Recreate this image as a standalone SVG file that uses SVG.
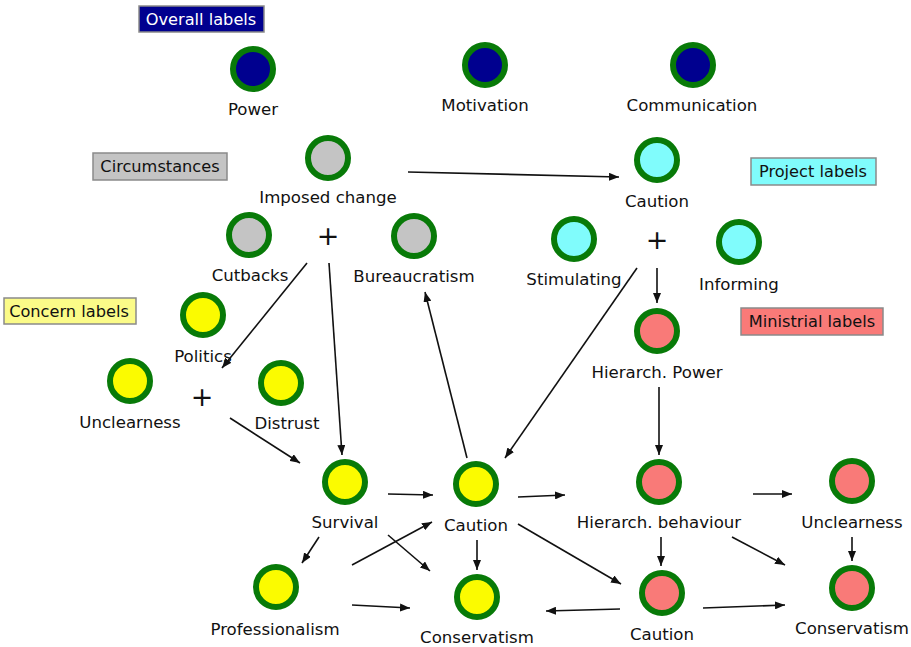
<svg xmlns="http://www.w3.org/2000/svg" width="911" height="647" viewBox="0 0 911 647">
  <defs>
    <marker id="arrow" viewBox="0 0 10 8" refX="10" refY="4" markerWidth="10" markerHeight="8" markerUnits="userSpaceOnUse" orient="auto">
      <path d="M0,0 L10,4 L0,8 z" fill="#111"/>
    </marker>
  </defs>
  <style>
    text { font-family: "DejaVu Sans", Verdana, sans-serif; font-size: 16.6px; fill: #111; }
    .lbl { text-anchor: middle; }
    .legend text { font-size: 16.2px; }
    .node circle { stroke: #087a08; stroke-width: 6; }
    .overall { fill: #00008f; }
    .circ { fill: #c4c4c4; }
    .proj { fill: #80fcfc; }
    .conc { fill: #fbfb00; }
    .min { fill: #f97a78; }
    .legend rect { stroke: #8a8a8a; stroke-width: 1.5; }
    .plus { font-size: 27px; text-anchor: middle; }
    #connectors line { stroke: #111; stroke-width: 1.6; marker-end: url(#arrow); }
  </style>
  <rect width="911" height="647" fill="#fff"/>

  <!-- legend boxes -->
  <g class="legend" id="legend-overall"><rect x="139" y="6" width="125" height="26" fill="#00008f" stroke="#00008f"/><text x="201" y="25" class="lbl" style="fill:#fff">Overall labels</text></g>
  <g class="legend" id="legend-circ"><rect x="93" y="153" width="134" height="27" fill="#c4c4c4"/><text x="160" y="172" class="lbl">Circumstances</text></g>
  <g class="legend" id="legend-proj"><rect x="751" y="158" width="125" height="27" fill="#80fcfc"/><text x="813" y="177" class="lbl">Project labels</text></g>
  <g class="legend" id="legend-conc"><rect x="4" y="298" width="132" height="26" fill="#fbfb88"/><text x="69" y="317" class="lbl">Concern labels</text></g>
  <g class="legend" id="legend-min"><rect x="741" y="308" width="142" height="27" fill="#f97a78"/><text x="812" y="327" class="lbl">Ministrial labels</text></g>

  <!-- overall -->
  <g class="node" id="power"><circle cx="253" cy="69" r="20" class="overall"/><text x="253" y="115" class="lbl">Power</text></g>
  <g class="node" id="motivation"><circle cx="485" cy="65" r="20" class="overall"/><text x="485" y="111" class="lbl">Motivation</text></g>
  <g class="node" id="communication"><circle cx="693" cy="65" r="20" class="overall"/><text x="692" y="111" class="lbl">Communication</text></g>

  <!-- circumstances -->
  <g class="node" id="imposed-change"><circle cx="328" cy="158" r="20" class="circ"/><text x="328" y="203" class="lbl">Imposed change</text></g>
  <g class="node" id="cutbacks"><circle cx="249" cy="235" r="20" class="circ"/><text x="250" y="281" class="lbl">Cutbacks</text></g>
  <g class="node" id="bureaucratism"><circle cx="414" cy="236" r="20" class="circ"/><text x="414" y="282" class="lbl">Bureaucratism</text></g>
  <text x="328" y="245" class="plus">+</text>

  <!-- project -->
  <g class="node" id="caution-project"><circle cx="657" cy="160" r="20" class="proj"/><text x="657" y="207" class="lbl">Caution</text></g>
  <g class="node" id="stimulating"><circle cx="574" cy="239" r="20" class="proj"/><text x="574" y="285" class="lbl">Stimulating</text></g>
  <g class="node" id="informing"><circle cx="739" cy="242" r="20" class="proj"/><text x="739" y="290" class="lbl">Informing</text></g>
  <text x="657" y="249" class="plus">+</text>

  <!-- concern -->
  <g class="node" id="politics"><circle cx="203" cy="315" r="20" class="conc"/><text x="203" y="362" class="lbl">Politics</text></g>
  <g class="node" id="unclearness-concern"><circle cx="130" cy="381" r="20" class="conc"/><text x="130" y="428" class="lbl">Unclearness</text></g>
  <g class="node" id="distrust"><circle cx="281" cy="383" r="20" class="conc"/><text x="287" y="429" class="lbl">Distrust</text></g>
  <text x="202" y="406" class="plus">+</text>
  <g class="node" id="survival"><circle cx="345" cy="482" r="20" class="conc"/><text x="345" y="528" class="lbl">Survival</text></g>
  <g class="node" id="caution-concern"><circle cx="476" cy="484" r="20" class="conc"/><text x="476" y="531" class="lbl">Caution</text></g>
  <g class="node" id="professionalism"><circle cx="276" cy="587" r="20" class="conc"/><text x="275" y="635" class="lbl">Professionalism</text></g>
  <g class="node" id="conservatism-concern"><circle cx="477" cy="597" r="20" class="conc"/><text x="477" y="643" class="lbl">Conservatism</text></g>

  <!-- ministrial -->
  <g class="node" id="hierarch-power"><circle cx="657" cy="331" r="20" class="min"/><text x="657" y="378" class="lbl">Hierarch. Power</text></g>
  <g class="node" id="hierarch-behaviour"><circle cx="659" cy="482" r="20" class="min"/><text x="659" y="528" class="lbl">Hierarch. behaviour</text></g>
  <g class="node" id="unclearness-min"><circle cx="852" cy="481" r="20" class="min"/><text x="852" y="528" class="lbl">Unclearness</text></g>
  <g class="node" id="caution-min"><circle cx="662" cy="593" r="20" class="min"/><text x="662" y="640" class="lbl">Caution</text></g>
  <g class="node" id="conservatism-min"><circle cx="852" cy="588" r="20" class="min"/><text x="852" y="634" class="lbl">Conservatism</text></g>

  <g id="connectors">
    <line x1="408" y1="172" x2="619" y2="177"/>
    <line x1="307" y1="263" x2="222" y2="368"/>
    <line x1="329" y1="263" x2="342" y2="455"/>
    <line x1="230" y1="418" x2="300" y2="463"/>
    <line x1="467" y1="458" x2="425" y2="292"/>
    <line x1="657" y1="268" x2="657" y2="303"/>
    <line x1="637" y1="268" x2="505" y2="458"/>
    <line x1="659" y1="387" x2="659" y2="455"/>
    <line x1="388" y1="494" x2="433" y2="495"/>
    <line x1="518" y1="497" x2="565" y2="495"/>
    <line x1="753" y1="494" x2="792" y2="494"/>
    <line x1="319" y1="537" x2="302" y2="563"/>
    <line x1="352" y1="565" x2="432" y2="522"/>
    <line x1="388" y1="535" x2="430" y2="571"/>
    <line x1="477" y1="540" x2="477" y2="570"/>
    <line x1="518" y1="524" x2="621" y2="584"/>
    <line x1="661" y1="537" x2="661" y2="566"/>
    <line x1="732" y1="537" x2="785" y2="565"/>
    <line x1="852" y1="537" x2="852" y2="561"/>
    <line x1="352" y1="605" x2="410" y2="608"/>
    <line x1="620" y1="609" x2="546" y2="611"/>
    <line x1="703" y1="608" x2="785" y2="605"/>
  </g>
</svg>
